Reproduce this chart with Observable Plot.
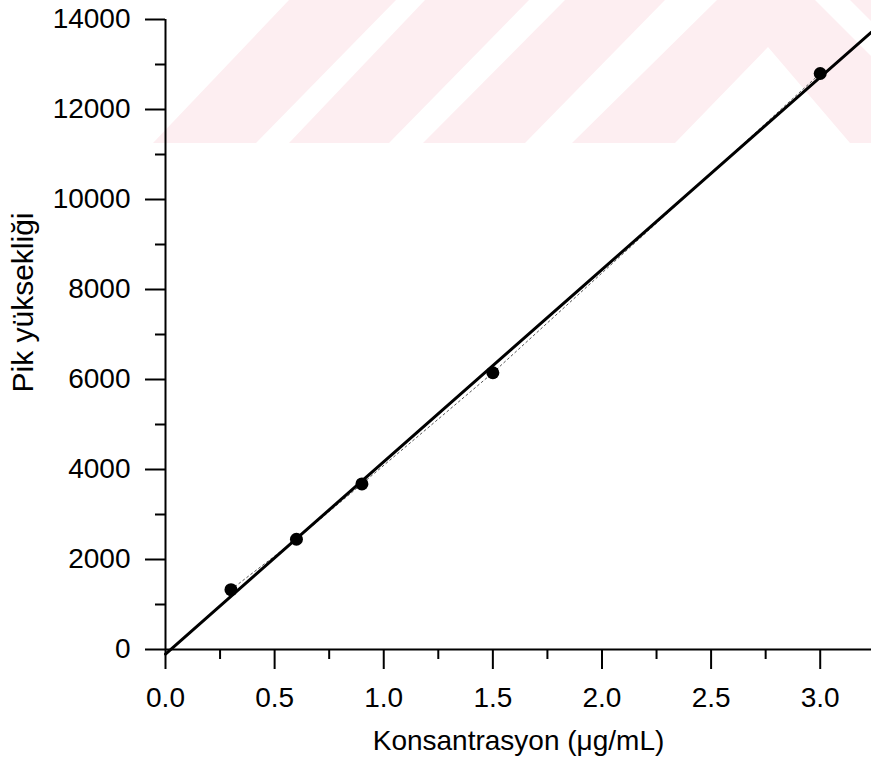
<!DOCTYPE html>
<html>
<head>
<meta charset="utf-8">
<script src="https://cdn.jsdelivr.net/npm/d3@7"></script>
<script src="https://cdn.jsdelivr.net/npm/@observablehq/plot@0.6"></script>
<style>
  html, body { margin: 0; padding: 0; background: #fff; }
  #wrap { position: relative; width: 871px; height: 774px; overflow: hidden; }
  #wm { position: absolute; left: 0; top: 0; z-index: 0; }
  #chart { position: absolute; left: 0; top: 0; z-index: 1; }
</style>
</head>
<body>
<div id="wrap">
  <svg id="wm" width="871" height="143" viewBox="0 0 871 143">
    <g fill="#fdeef1">
      <polygon points="153,143 256,143 396,0 289,0"/>
      <polygon points="289,143 389,143 529,0 425,0"/>
      <polygon points="423,143 525,143 665,0 565,0"/>
      <polygon points="572,143 675,143 768,47 850,143 871,143 871,56 815,0 717,0"/>
      <polygon points="850,0 871,0 871,21"/>
    </g>
  </svg>
  <div id="chart"></div>
</div>
<script>
// Data
const concentration = [0.3, 0.6, 0.9, 1.5, 3.0];      // µg/mL
const peakHeight    = [1330, 2450, 3680, 6150, 12800];
const xTicksMajor = [0.0, 0.5, 1.0, 1.5, 2.0, 2.5, 3.0];
const xTicksMinor = [0.25, 0.75, 1.25, 1.75, 2.25, 2.75, 3.25];
const yTicksMajor = [0, 2000, 4000, 6000, 8000, 10000, 12000, 14000];
const yTicksMinor = [1000, 3000, 5000, 7000, 9000, 11000, 13000];
const xLabel = "Konsantrasyon (\u03BCg/mL)";
const yLabel = "Pik yüksekliği";
const xDomain = [0, 3.235];
const yDomain = [0, 14000];

const points = concentration.map((c, i) => ({x: c, y: peakHeight[i]}));

// least-squares fit of the measured points (the drawn calibration line)
const mx = d3.mean(concentration), my = d3.mean(peakHeight);
const slope = d3.sum(concentration, (c, i) => (c - mx) * (peakHeight[i] - my)) /
              d3.sum(concentration, c => (c - mx) ** 2);
const intercept = my - slope * mx;
const fitLine = xDomain.map(x => ({x, y: intercept + slope * x}));

const chart = Plot.plot({
  width: 871,
  height: 774,
  marginLeft: 165,
  marginRight: 0,
  marginTop: 19,
  marginBottom: 125,
  style: {
    background: "transparent",
    fontFamily: "'Liberation Sans', Arial, sans-serif",
    fontSize: "28px",
    color: "#000"
  },
  x: {domain: xDomain},
  y: {domain: yDomain},
  marks: [
    // axis lines
    Plot.ruleY([0], {stroke: "#000", strokeWidth: 2}),
    Plot.ruleX([0], {stroke: "#000", strokeWidth: 2}),
    // y axis
    Plot.axisY({ticks: yTicksMajor, tickSize: 20, tickPadding: 15, strokeWidth: 2, label: null, tickFormat: d => String(d)}),
    Plot.axisY({ticks: yTicksMinor, tickSize: 10, strokeWidth: 2, label: null, tickFormat: () => ""}),
    // x axis
    Plot.axisX({ticks: xTicksMajor, tickSize: 20, tickPadding: 18, strokeWidth: 2, label: null, tickFormat: d => d.toFixed(1)}),
    Plot.axisX({ticks: xTicksMinor.filter(t => t <= xDomain[1]), tickSize: 10, strokeWidth: 2, label: null, tickFormat: () => ""}),
    // axis titles
    Plot.text([xLabel], {frameAnchor: "bottom", dy: 100, text: d => d, fontSize: 28}),
    Plot.text([yLabel], {frameAnchor: "left", textAnchor: "middle", dx: -142, dy: -32, rotate: -90, text: d => d, fontSize: 30}),
    // thin connecting line through the points
    Plot.line(points, {x: "x", y: "y", stroke: "#555", strokeWidth: 1, strokeDasharray: "2,3"}),
    // fitted calibration line
    Plot.line(fitLine, {x: "x", y: "y", stroke: "#000", strokeWidth: 3}),
    // measured points
    Plot.dot(points, {x: "x", y: "y", r: 6.5, fill: "#000", stroke: "none"})
  ]
});
document.getElementById("chart").appendChild(chart);
</script>
</body>
</html>
